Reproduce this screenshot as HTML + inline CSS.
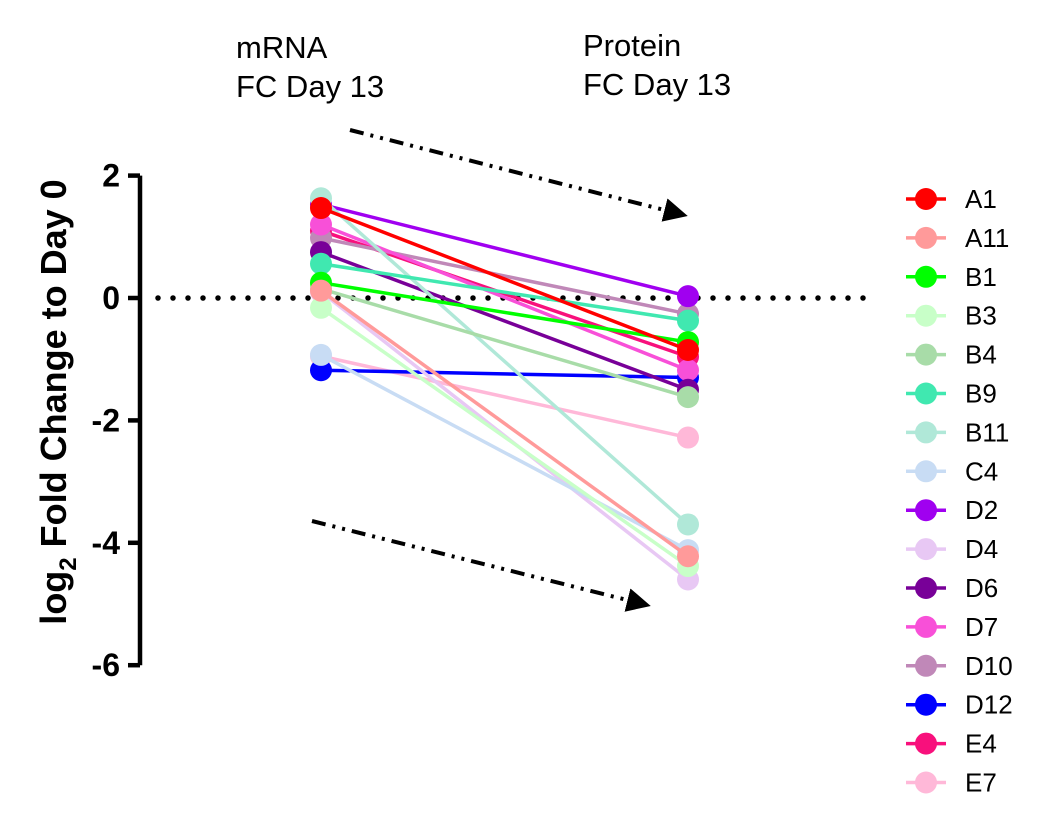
<!DOCTYPE html>
<html><head><meta charset="utf-8"><style>
body{margin:0;background:#fff;}
svg text{font-family:"Liberation Sans",Arial,sans-serif;}
</style></head><body>
<svg id="chart" width="1039" height="822">
<defs><marker id="ah" markerWidth="6" markerHeight="6" refX="4" refY="3" orient="auto" markerUnits="strokeWidth"><path d="M0,0 L6,3 L0,6 Z" fill="#000"/></marker></defs>
<g id="axis"></g><g id="lines"></g><g id="legend"></g>
<text x="236" y="58" font-size="31">mRNA</text>
<text x="236" y="97" font-size="31">FC Day 13</text>
<text x="583" y="56" font-size="31">Protein</text>
<text x="583" y="95" font-size="31">FC Day 13</text>
<line x1="350" y1="130" x2="680" y2="214" stroke="#000" stroke-width="4" stroke-dasharray="14,7,3,7,3,7" marker-end="url(#ah)"/>
<line x1="312" y1="521" x2="643" y2="604" stroke="#000" stroke-width="4" stroke-dasharray="14,7,3,7,3,7" marker-end="url(#ah)"/>
<text transform="translate(66,402) rotate(-90)" text-anchor="middle" font-size="36" font-weight="bold">log<tspan font-size="24" dy="10">2</tspan><tspan dy="-10"> Fold Change to Day 0</tspan></text>
</svg>
<script>
const names=["A1","A11","B1","B3","B4","B9","B11","C4","D2","D4","D6","D7","D10","D12","E4","E7"];
const colors=["#ff0000","#ff9a9a","#00ff00","#c8ffc8","#a8dca8","#40e8b0","#b0e8d8","#c8dcf4","#a000f0","#e8c8f4","#780098","#f850d8","#c088b8","#0000ff","#f8107c","#ffb8d8"];
const mrna=[1.47,0.12,0.25,-0.16,0.15,0.56,1.63,-0.93,1.53,0.1,0.75,1.2,0.98,-1.18,1.1,-0.95];
const protein=[-0.85,-4.22,-0.72,-4.38,-1.62,-0.37,-3.7,-4.12,0.03,-4.6,-1.5,-1.18,-0.26,-1.3,-0.96,-2.28];
const ticks=[2,0,-2,-4,-6];
const NS="http://www.w3.org/2000/svg";
const y=v=>298-v*61.2;
const xL=321,xR=688;
function mk(t,a,p){const e=document.createElementNS(NS,t);for(const k in a)e.setAttribute(k,a[k]);p.appendChild(e);return e;}
const ax=document.getElementById('axis');
let al=mk('line',{x1:140,x2:140,y1:y(2),y2:y(-6),stroke:'#000','stroke-width':4.5},ax);


ticks.forEach(t=>{
 let l=mk('line',{x1:128,x2:140,y1:y(t),y2:y(t),stroke:'#000','stroke-width':4.5},ax);
 
 
 let tx=mk('text',{x:120,y:y(t)+11,'text-anchor':'end','font-size':32,'font-weight':'bold'},ax);tx.textContent=t;
 
 
});
let zl=mk('line',{x1:158,x2:875,y1:y(0),y2:y(0),stroke:'#000','stroke-width':5.5,'stroke-dasharray':'0,15','stroke-linecap':'round'},ax);


const lg=document.getElementById('lines');
for(let i=names.length-1;i>=0;i--){
 const n=names[i];
 const g=mk('g',{},lg);
 
 
 mk('line',{x1:xL,x2:xR,y1:y(mrna[i]),y2:y(protein[i]),stroke:colors[i],'stroke-width':3.5},g);
 mk('circle',{cx:xL,cy:y(mrna[i]),r:11,fill:colors[i]},g);
 mk('circle',{cx:xR,cy:y(protein[i]),r:11,fill:colors[i]},g);
}
const le=document.getElementById('legend');
names.forEach((n,i)=>{
 const yy=199+i*38.9;
 const g=mk('g',{},le);
 
 
 mk('line',{x1:906,x2:946,y1:yy,y2:yy,stroke:colors[i],'stroke-width':3.5},g);
 mk('circle',{cx:926,cy:yy,r:11,fill:colors[i]},g);
 const t=mk('text',{x:965,y:yy+9,'font-size':26},g);t.textContent=n;
});
</script>
</body></html>
